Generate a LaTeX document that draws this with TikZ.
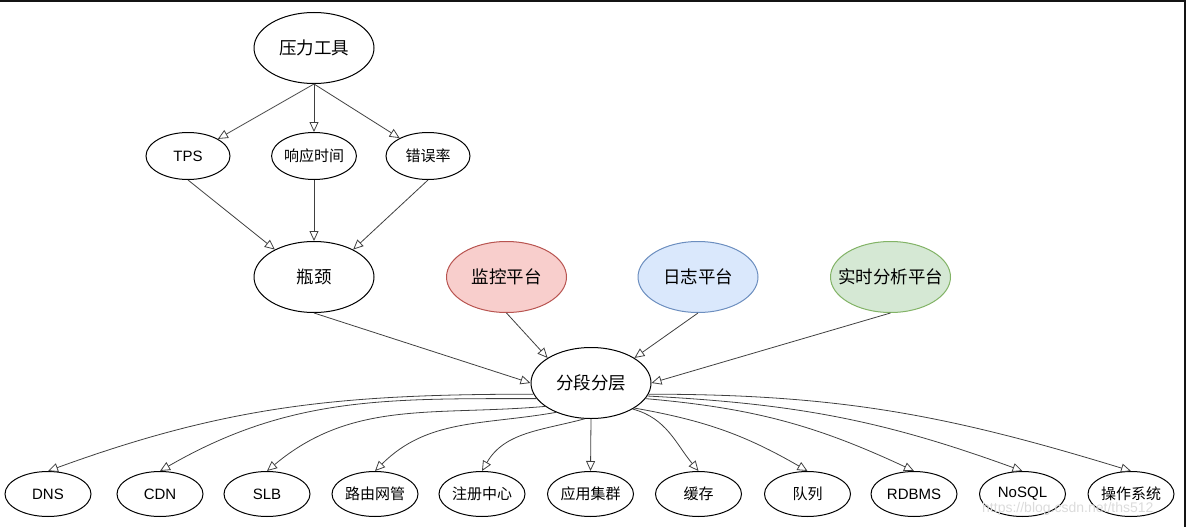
\documentclass[tikz,border=0pt]{standalone}
\usepackage{fontspec}
\setmainfont{Liberation Sans}
\newfontfamily\cjk{Noto Sans CJK SC}
\usepackage{tikz}
\usetikzlibrary{shapes.geometric}
\usetikzlibrary{arrows.meta}

\definecolor{monfill}{HTML}{F8CECC}
\definecolor{monline}{HTML}{B85450}
\definecolor{logfill}{HTML}{DAE8FC}
\definecolor{logline}{HTML}{6C8EBF}
\definecolor{rtafill}{HTML}{D5E8D4}
\definecolor{rtaline}{HTML}{82B366}

\tikzset{
  big/.style={ellipse,draw,line width=1pt,inner sep=0pt,minimum width=120pt,minimum height=71pt,font=\cjk\fontsize{17.5}{20}\selectfont},
  mid/.style={ellipse,draw,line width=1pt,inner sep=0pt,minimum width=84pt,minimum height=47pt,font=\cjk\fontsize{15}{18}\selectfont},
  leaf/.style={ellipse,draw,line width=1pt,inner sep=0pt,minimum width=86pt,minimum height=45pt,font=\cjk\fontsize{15}{18}\selectfont},
  latin/.style={font=\fontsize{15}{18}\selectfont},
  edge/.style={->,draw=black!75,line width=0.8pt}
}

\begin{document}
\begin{tikzpicture}[x=1pt,y=1pt,>={Triangle[open,length=10pt,width=9pt]}]
    \useasboundingbox (0,0) rectangle (1186,-527);
    \fill[black!92] (0,0) rectangle (1186,-2.5);
    \fill[black!92] (1183.5,0) rectangle (1186,-527);

    % pressure test part
    \node[big] (press) at (314,-48) {压力工具};
    \node[mid,latin] (tps) at (188,-156) {TPS};
    \node[mid] (resp) at (314,-156) {响应时间};
    \node[mid] (err) at (428,-156) {错误率};
    \node[big] (neck) at (314,-277) {瓶颈};

    % platforms
    \node[big,fill=monfill,draw=monline] (mon) at (506.5,-277) {监控平台};
    \node[big,fill=logfill,draw=logline] (log) at (698,-277) {日志平台};
    \node[big,fill=rtafill,draw=rtaline,inner xsep=-22pt] (rta) at (890.5,-277) {实时分析平台};
    \node[big] (seg) at (591,-383) {分段分层};

    % layers
    \node[leaf,latin] (dns) at (48,-494) {DNS};
    \node[leaf,latin] (cdn) at (160,-494) {CDN};
    \node[leaf,latin] (slb) at (267,-494) {SLB};
    \node[leaf] (gw) at (375,-494) {路由网管};
    \node[leaf] (reg) at (482,-494) {注册中心};
    \node[leaf] (app) at (590.5,-494) {应用集群};
    \node[leaf] (cache) at (698.5,-494) {缓存};
    \node[leaf] (mq) at (807.5,-494) {队列};
    \node[leaf,latin] (rdb) at (914,-494) {RDBMS};
    \node[leaf,latin] (nosql) at (1022.5,-494) {NoSQL};
    \node[leaf] (os) at (1131,-494) {操作系统};

    \draw[edge] (press.south) -- (tps);
    \draw[edge] (press.south) -- (resp.north);
    \draw[edge] (press.south) -- (err);
    \draw[edge] (tps.south) -- (neck.145);
    \draw[edge] (resp.south) -- (neck.north);
    \draw[edge] (err.south) -- (neck.35);

    \draw[edge] (neck.south) -- (seg.west);
    \draw[edge] (mon.south) -- (seg.150);
    \draw[edge] (log.south) -- (seg.30);
    \draw[edge] (rta.south) -- (seg.east);

    \draw[edge] (seg.191) to[out=180,in=20] (dns.north);
    \draw[edge] (seg.196) to[out=180,in=30] (cdn.north);
    \draw[edge] (seg.207) to[out=185,in=40] (slb.north);
    \draw[edge] (seg.220) to[out=190,in=45] (gw.north);
    \draw[edge] (seg.260) to[out=195,in=60] (reg.north);
    \draw[edge] (seg.south) -- (app.north);
    \draw[edge] (seg.328) to[out=-15,in=130] (cache.north);
    \draw[edge] (seg.330) to[out=-10,in=150] (mq.north);
    \draw[edge] (seg.344) to[out=-5,in=155] (rdb.north);
    \draw[edge] (seg.347) to[out=-3,in=160] (nosql.north);
    \draw[edge] (seg.349) to[out=0,in=163] (os.north);

    \node[font=\fontsize{14}{16}\selectfont,text=black!14,anchor=west,inner sep=0pt] (mark) at (982,-509) {https://blog.csdn.net/ths512};
\end{tikzpicture}
\end{document}
